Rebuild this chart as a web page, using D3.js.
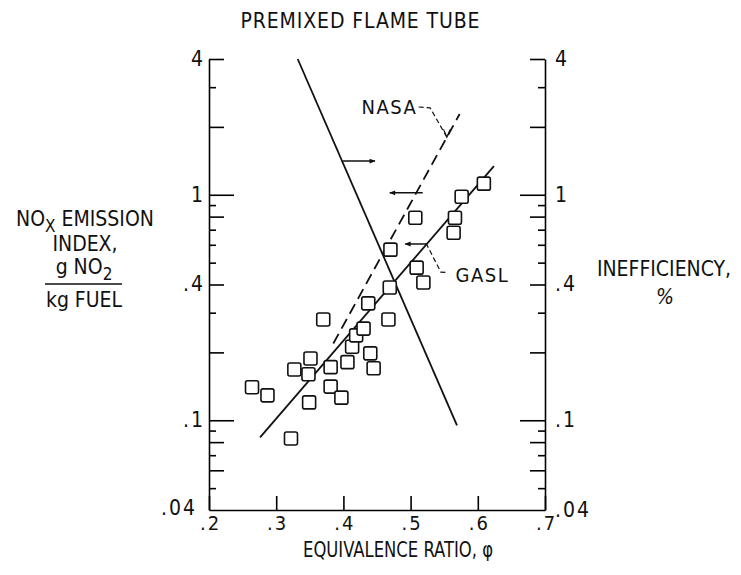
<!DOCTYPE html>
<html>
<head>
<meta charset="utf-8">
<script src="https://cdn.jsdelivr.net/npm/d3@7"></script>
<style>
  body { margin: 0; background: #fff; }
  svg text { font-family: "Liberation Sans Narrow", "DejaVu Sans Condensed", sans-serif; fill: #111; }
</style>
</head>
<body>
<div id="chart"></div>
<script>
// data (equivalence ratio vs NOx emission index)
var phi = [.264, .287, .322, .349, .327, .348, .351, .370, .381, .381, .397, .406, .413, .419,
           .430, .437, .440, .445, .467, .469, .470, .509, .519, .507, .564, .566, .576, .609];
var noxIndex = [.140, .129, .083, .120, .168, .160, .188, .280, .172, .141, .126, .181, .212, .238,
                .255, .330, .198, .170, .280, .388, .571, .475, .408, .791, .679, .791, .98, 1.12];

// fitted lines
var gaslPhi = [.276, .624], gaslNox = [.084, 1.34];
var nasaPhi = [.385, .573], nasaNox = [.219, 2.28];
var ineffPhi = [.332, .569], ineffPct = [4.0, .095];

// ticks
var xTicks = [.2, .3, .4, .5, .6, .7];
var yLabels = [.04, .1, .4, 1, 4];
var yLong = [1, .1];
var yMid = [4, 2, .8, .4, .2, .08, .06];
var yShort = [3, .9, .7, .6, .5, .3, .09, .07, .05];

// annotations, in data units
var arrowsFrom = [.399, .518, .523], arrowsTo = [.447, .469, .492], arrowsAt = [1.41, 1.02, .605];

var W = 741, H = 575;
var svg = d3.select("#chart").append("svg").attr("width", W).attr("height", H);

var x = d3.scaleLinear().domain([.2, .7]).range([209, 545]);
var y = d3.scaleLog().domain([.04, 4]).range([510, 59]);

var fmt = function (d) { return String(d).replace(/^0\./, "."); };

svg.append("defs").append("marker")
    .attr("id", "head").attr("viewBox", "0 0 10 10").attr("refX", 9).attr("refY", 5)
    .attr("markerWidth", 9).attr("markerHeight", 6).attr("markerUnits", "userSpaceOnUse")
    .attr("orient", "auto")
  .append("path").attr("d", "M0,1 L10,5 L0,9 Z").attr("fill", "#111");

// x axis
var gx = svg.append("g").attr("transform", "translate(0,510)")
    .call(d3.axisBottom(x).tickValues(xTicks).tickSizeInner(-14).tickSizeOuter(0)
      .tickPadding(6).tickFormat(""));
gx.selectAll(".tick text").attr("font-size", 20).each(function (d) {
  var s = fmt(d), t = d3.select(this);
  t.append("tspan").text(s.charAt(0));
  t.append("tspan").attr("dx", 2).text(s.slice(1));
});

// side axes: labels plus ticks of three lengths
function sideAxis(xpos, right) {
  var mk = right ? d3.axisRight : d3.axisLeft;
  var g = svg.append("g").attr("transform", "translate(" + xpos + ",0)");
  g.call(mk(y).tickValues(yLabels).tickSize(0).tickPadding(right ? 10 : 4).tickFormat(fmt));
  g.selectAll("text").attr("font-size", 21).attr("dy", "0.3em").attr("letter-spacing", 2);
  [[yLong, 25], [yMid, 15], [yShort, 7]].forEach(function (t) {
    svg.append("g").attr("transform", "translate(" + xpos + ",0)")
      .call(mk(y).tickValues(t[0]).tickSizeInner(-t[1]).tickSizeOuter(0).tickFormat(""))
      .select(".domain").remove();
  });
  return g;
}
var gl = sideAxis(209, false);
gl.selectAll(".tick text").filter(function (d) { return d === .04; })
    .attr("dx", -8).attr("dy", "0.2em");
sideAxis(545, true);

svg.selectAll(".domain").attr("stroke-width", 1.6);
svg.selectAll(".tick line").attr("stroke-width", 1.6);

var line = d3.line().x(function (d) { return x(d[0]); }).y(function (d) { return y(d[1]); });

svg.append("path").datum(d3.zip(gaslPhi, gaslNox)).attr("d", line)
    .attr("fill", "none").attr("stroke", "#111").attr("stroke-width", 1.8);
svg.append("path").datum(d3.zip(nasaPhi, nasaNox)).attr("d", line)
    .attr("fill", "none").attr("stroke", "#111").attr("stroke-width", 1.8)
    .attr("stroke-dasharray", "11,6");
svg.append("path").datum(d3.zip(ineffPhi, ineffPct)).attr("d", line)
    .attr("fill", "none").attr("stroke", "#111").attr("stroke-width", 1.8);

// data squares
svg.selectAll("rect.pt").data(d3.zip(phi, noxIndex)).enter().append("rect")
    .attr("class", "pt")
    .attr("x", function (d) { return x(d[0]) - 6.5; })
    .attr("y", function (d) { return y(d[1]) - 6.5; })
    .attr("width", 13).attr("height", 13).attr("rx", 2)
    .attr("fill", "#fff").attr("stroke", "#111").attr("stroke-width", 1.6);

// arrows showing which axis each line belongs to
svg.selectAll("line.arr").data(d3.range(arrowsAt.length)).enter().append("line")
    .attr("class", "arr")
    .attr("x1", function (i) { return x(arrowsFrom[i]); })
    .attr("x2", function (i) { return x(arrowsTo[i]); })
    .attr("y1", function (i) { return y(arrowsAt[i]); })
    .attr("y2", function (i) { return y(arrowsAt[i]); })
    .attr("stroke", "#111").attr("stroke-width", 1.5).attr("marker-end", "url(#head)");

// leaders + labels
svg.append("path").datum([[.512, 2.45], [.529, 2.43], [.554, 1.80]]).attr("d", line)
    .attr("fill", "none").attr("stroke", "#111").attr("stroke-width", 1.2).attr("stroke-dasharray", "5,3");
svg.append("path").datum([[.549, 1.95], [.554, 1.80], [.559, 1.95]]).attr("d", line)
    .attr("fill", "none").attr("stroke", "#111").attr("stroke-width", 1.2);
svg.append("text").attr("x", x(.510)).attr("y", y(2.45)).attr("dy", "0.36em")
    .attr("text-anchor", "end").attr("font-size", 20).attr("letter-spacing", 1.5).text("NASA");
svg.append("path").datum([[.523, .61], [.545, .454], [.556, .452]]).attr("d", line)
    .attr("fill", "none").attr("stroke", "#111").attr("stroke-width", 1.2).attr("stroke-dasharray", "5,3");
svg.append("text").attr("x", x(.567)).attr("y", y(.44)).attr("dy", "0.36em")
    .attr("font-size", 20).attr("letter-spacing", 1.5).text("GASL");

// titles
svg.append("text").attr("x", 360).attr("y", 28).attr("text-anchor", "middle")
    .attr("font-size", 21).attr("textLength", 239).attr("lengthAdjust", "spacing")
    .text("PREMIXED FLAME TUBE");
svg.append("text").attr("x", 398).attr("y", 557).attr("text-anchor", "middle")
    .attr("font-size", 22).attr("textLength", 190).attr("lengthAdjust", "spacingAndGlyphs")
    .text("EQUIVALENCE RATIO, \u03C6");

var lab = svg.append("g").attr("font-size", 21);
var t1 = lab.append("text").attr("x", 85).attr("y", 226).attr("text-anchor", "middle");
t1.append("tspan").text("NO");
t1.append("tspan").attr("dy", 6).attr("font-size", 17).text("X");
t1.append("tspan").attr("dy", -6).text(" EMISSION");
lab.append("text").attr("x", 85).attr("y", 251).attr("text-anchor", "middle").text("INDEX,");
var t3 = lab.append("text").attr("x", 84).attr("y", 274).attr("text-anchor", "middle");
t3.append("tspan").text("g NO");
t3.append("tspan").attr("dy", 6).attr("font-size", 17).text("2");
lab.append("line").attr("x1", 45).attr("x2", 122).attr("y1", 284).attr("y2", 284)
    .attr("stroke", "#111").attr("stroke-width", 1.4);
lab.append("text").attr("x", 84).attr("y", 307).attr("text-anchor", "middle").text("kg FUEL");

lab.append("text").attr("x", 664).attr("y", 276).attr("text-anchor", "middle").text("INEFFICIENCY,");
lab.append("text").attr("x", 665).attr("y", 304).attr("text-anchor", "middle")
    .attr("font-style", "italic").text("%");
</script>
</body>
</html>
